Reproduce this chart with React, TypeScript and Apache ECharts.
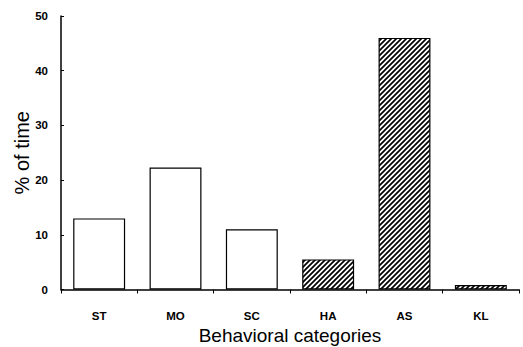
import React, { useEffect, useRef } from "react";
import * as echarts from "echarts";

const categories = ["ST", "MO", "SC", "HA", "AS", "KL"];
const values = [13, 22.3, 11, 5.5, 46, 0.8];
const hatched = [false, false, false, true, true, true];
const yTicks = [0, 10, 20, 30, 40, 50];

function makeHatch(): HTMLCanvasElement {
  const p = 5;
  const c = document.createElement("canvas");
  c.width = p;
  c.height = p;
  const ctx = c.getContext("2d")!;
  ctx.fillStyle = "#fff";
  ctx.fillRect(0, 0, p, p);
  ctx.strokeStyle = "#000";
  ctx.lineWidth = 1.7;
  ctx.beginPath();
  ctx.moveTo(-1, p + 1);
  ctx.lineTo(p + 1, -1);
  ctx.moveTo(-1, 1);
  ctx.lineTo(1, -1);
  ctx.moveTo(p - 1, p + 1);
  ctx.lineTo(p + 1, p - 1);
  ctx.stroke();
  return c;
}

export default function App() {
  const ref = useRef<HTMLDivElement>(null);
  useEffect(() => {
    if (!ref.current) return;
    const chart = echarts.init(ref.current, null, { renderer: "svg" });
    const hatchFill = { image: makeHatch(), repeat: "repeat" };
    chart.setOption({
      animation: false,
      backgroundColor: "#fff",
      grid: {
        left: 61,
        right: 4,
        top: 16,
        bottom: 57.5,
        containLabel: false,
        outerBoundsMode: "none",
      },
      xAxis: {
        type: "category",
        data: categories,
        name: "Behavioral categories",
        nameLocation: "middle",
        nameGap: 36,
        nameMoveOverlap: false,
        nameTextStyle: { fontFamily: "Liberation Sans", fontSize: 19, color: "#000" },
        axisLine: { lineStyle: { color: "#000", width: 1.5 } },
        axisTick: { show: true, length: 4, lineStyle: { color: "#000" } },
        axisLabel: {
          margin: 20,
          fontFamily: "Liberation Sans",
          fontWeight: "bold",
          fontSize: 11.5,
          color: "#000",
        },
      },
      yAxis: {
        type: "value",
        min: 0,
        max: 50,
        interval: 10,
        name: "% of time",
        nameLocation: "middle",
        nameGap: 29,
        nameMoveOverlap: false,
        nameTextStyle: { fontFamily: "Liberation Sans", fontSize: 20, color: "#000" },
        axisLine: { show: true, lineStyle: { color: "#000", width: 1.5 } },
        axisTick: { show: true, inside: true, length: 3, lineStyle: { color: "#000" } },
        splitLine: { show: false },
        axisLabel: {
          margin: 13,
          fontFamily: "Liberation Sans",
          fontWeight: "bold",
          fontSize: 11.5,
          color: "#000",
          formatter: (v: number) => (yTicks.includes(v) ? String(v) : ""),
        },
      },
      series: [
        {
          type: "bar",
          barCategoryGap: "32%",
          data: values.map((v, i) => ({
            value: v,
            itemStyle: {
              color: hatched[i] ? hatchFill : "#fff",
              borderColor: "#000",
              borderWidth: 1.2,
            },
          })),
        },
      ],
    });
    return () => chart.dispose();
  }, []);
  return (
    <div
      ref={ref}
      style={{ position: "fixed", left: 0, top: 0, width: 523, height: 347 }}
    />
  );
}
